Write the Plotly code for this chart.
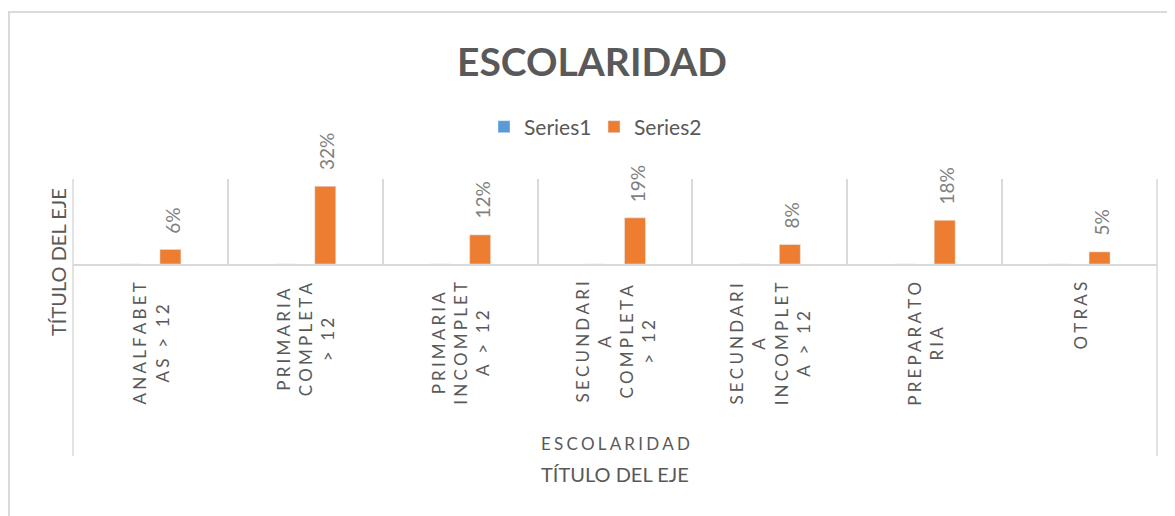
import plotly.graph_objects as go

# ---------------- data ----------------
categories = ["ANALFABETAS > 12", "PRIMARIA COMPLETA > 12", "PRIMARIA INCOMPLETA > 12",
              "SECUNDARIA COMPLETA > 12", "SECUNDARIA INCOMPLETA > 12", "PREPARATORIA", "OTRAS"]
tick_labels = ["ANALFABET<br>AS > 12", "PRIMARIA<br>COMPLETA<br>> 12", "PRIMARIA<br>INCOMPLET<br>A > 12",
               "SECUNDARI<br>A<br>COMPLETA<br>> 12", "SECUNDARI<br>A<br>INCOMPLET<br>A > 12",
               "PREPARATO<br>RIA", "OTRAS"]
series1 = [0, 0, 0, 0, 0, 0, 0]
series2 = [0.06, 0.32, 0.12, 0.19, 0.08, 0.18, 0.05]
value_labels = ["6%", "32%", "12%", "19%", "8%", "18%", "5%"]
group_label = "ESCOLARIDAD"
chart_title = "ESCOLARIDAD"
axis_title = "TÍTULO DEL EJE"

# ---------------- layout geometry (page pixels; page body has an 8px margin) ----------------
OFF = 8
W, H = 1175, 516
L, R, T, B = 73 - OFF, 1157 - OFF, 179 - OFF, 264 - OFF
FONT = "Lato"
GRID = "#d9d9d9"
TXT = "#595959"
BARGAP, GROUPGAP = 0.4835, 0.475


def px_x(px):
    return (px - OFF - L) / (R - L)


def px_y(py):
    return (B - (py - OFF)) / (B - T)


def spaced(s, sep="\u2009\u200a"):
    return "<br>".join(sep.join(list(line)) for line in s.split("<br>"))


fig = go.Figure()
fig.add_trace(go.Bar(name="Series1", x=categories, y=series1, marker_color="#5B9BD5"))
fig.add_trace(go.Bar(name="Series2", x=categories, y=series2, marker_color="#ED7D31"))

cat_w = (R - L) / len(categories)
s2_shift = (1 - BARGAP) * cat_w / 4

annotations = []
for c, v, t in zip(categories, series2, value_labels):
    annotations.append(dict(x=c, y=v, xref="x", yref="y", text=t, showarrow=False,
                            textangle=-90, xanchor="center", yanchor="bottom",
                            xshift=s2_shift + 2, yshift=14,
                            font=dict(family=FONT, size=19, color="#7f7f7f")))
for c, t in zip(categories, tick_labels):
    annotations.append(dict(x=c, y=0, xref="x", yref="paper", text=spaced(t), showarrow=False,
                            textangle=-90, xanchor="center", yanchor="top", align="center",
                            yshift=-16,
                            font=dict(family=FONT, size=17, color=TXT)))
annotations.append(dict(x=0.5, y=px_y(443), xref="paper", yref="paper", text=spaced(group_label),
                        showarrow=False, xanchor="center", yanchor="middle",
                        font=dict(family=FONT, size=17, color=TXT)))
annotations.append(dict(x=0.5, y=px_y(474), xref="paper", yref="paper", text=axis_title,
                        showarrow=False, xanchor="center", yanchor="middle",
                        font=dict(family=FONT, size=20, color=TXT)))
annotations.append(dict(x=px_x(58), y=px_y(262), xref="paper", yref="paper", text=axis_title,
                        showarrow=False, textangle=-90, xanchor="center", yanchor="middle",
                        font=dict(family=FONT, size=20, color=TXT)))

shapes = [
    dict(type="rect", xref="paper", yref="paper", x0=px_x(9), x1=px_x(1200), y0=px_y(12), y1=px_y(540),
         line=dict(color=GRID, width=2), fillcolor="rgba(0,0,0,0)", layer="below"),
    dict(type="line", xref="paper", yref="paper", x0=0, x1=0, y0=1, y1=px_y(456),
         line=dict(color=GRID, width=1.5)),
    dict(type="line", xref="paper", yref="paper", x0=1, x1=1, y0=1, y1=px_y(456),
         line=dict(color=GRID, width=1.5)),
]

fig.update_layout(
    width=W, height=H,
    margin=dict(l=L, r=W - R, t=T, b=H - B, autoexpand=False),
    paper_bgcolor="white", plot_bgcolor="white",
    barmode="group", bargap=BARGAP, bargroupgap=GROUPGAP,
    title=dict(text="<b>" + chart_title + "</b>", x=(592 - OFF) / W, xref="container", xanchor="center",
               y=1 - (62 - OFF) / H, yref="container", yanchor="middle",
               font=dict(family=FONT, size=39, color=TXT)),
    legend=dict(orientation="h", xref="container", yref="container", x=(594 - OFF) / W, xanchor="center",
                y=1 - (127 - OFF) / H, yanchor="middle", font=dict(family=FONT, size=21, color=TXT),
                itemwidth=30, tracegroupgap=0, entrywidth=65),
    xaxis=dict(type="category", showticklabels=False, ticks="", showgrid=True, gridcolor=GRID,
               gridwidth=1.5, tickson="boundaries", showline=True, linecolor=GRID, linewidth=1.5,
               zeroline=False, fixedrange=True),
    yaxis=dict(range=[0, 0.35], showticklabels=False, ticks="", showgrid=False, zeroline=False,
               showline=False, fixedrange=True),
    annotations=annotations,
    shapes=shapes,
    showlegend=True,
)

fig.write_html("out.html")
